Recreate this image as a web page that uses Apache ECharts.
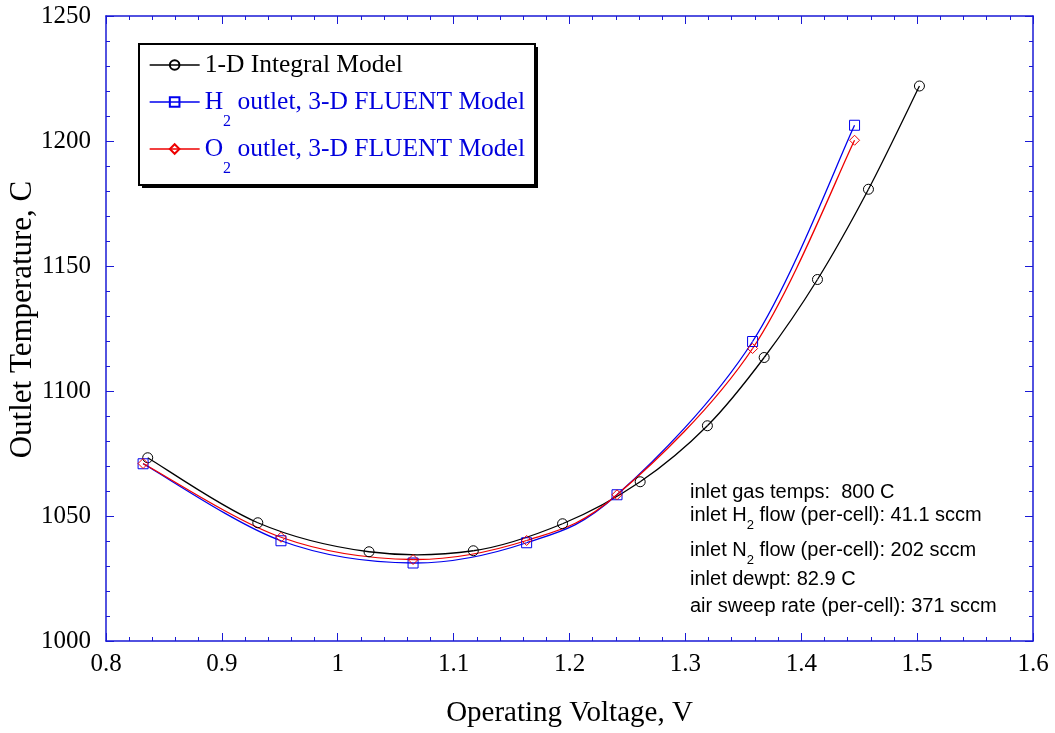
<!DOCTYPE html>
<html>
<head>
<meta charset="utf-8">
<script src="https://cdn.jsdelivr.net/npm/echarts@6/dist/echarts.min.js"></script>
<style>
html,body{margin:0;padding:0;background:#fff;}
#chart{width:1055px;height:733px;}
</style>
</head>
<body>
<div id="chart"></div>
<script>
// ---- data ----
var voltage1D = [0.836, 0.931, 1.027, 1.117, 1.194, 1.261, 1.319, 1.368, 1.414, 1.458, 1.502];
var temp1D    = [1073.3, 1047.3, 1035.7, 1036.1, 1046.9, 1063.7, 1086.1, 1113.4, 1144.6, 1180.7, 1222.0];
var voltageH2 = [0.832, 0.951, 1.065, 1.163, 1.241, 1.358, 1.446];
var tempH2    = [1070.9, 1040.1, 1031.2, 1039.3, 1058.5, 1119.8, 1206.3];
var voltageO2 = [0.832, 0.951, 1.065, 1.163, 1.241, 1.358, 1.446];
var tempO2    = [1071.0, 1041.5, 1032.6, 1040.2, 1058.5, 1117.0, 1200.3];

var seriesNames = ['1-D Integral Model', 'H2 outlet, 3-D FLUENT Model', 'O2 outlet, 3-D FLUENT Model'];
var seriesColors = ['#000000', '#0000ee', '#ee0000'];
var notes = [
  '{a|inlet gas temps:  800 C}',
  '{a|inlet H}{s|2}{a| flow (per-cell): 41.1 sccm}',
  '{a|inlet N}{s|2}{a| flow (per-cell): 202 sccm}',
  '{a|inlet dewpt: 82.9 C}',
  '{a|air sweep rate (per-cell): 371 sccm}'
];

function pairs(xs, ys) { return xs.map(function (x, i) { return [x, ys[i]]; }); }

var AXIS = '#1a1ad6';
var SERIF = '"Liberation Serif", "Times New Roman", serif';
var SANS = '"Liberation Sans", Arial, sans-serif';

var chart = echarts.init(document.getElementById('chart'));

function baseX(pos, show) {
  return {
    type: 'value', position: pos, min: 0.8, max: 1.6, interval: 0.1,
    axisLine: { show: true, onZero: false, lineStyle: { color: AXIS, width: 1.5 } },
    axisTick: { show: true, inside: true, length: 8, lineStyle: { color: AXIS } },
    minorTick: { show: true, splitNumber: 5, length: 4, lineStyle: { color: AXIS } },
    splitLine: { show: false }, minorSplitLine: { show: false },
    axisLabel: show ? { show: true, margin: 11, color: '#000', fontFamily: SERIF, fontSize: 25,
      formatter: function (v) { return String(Math.round(v * 10) / 10); } } : { show: false },
    name: show ? 'Operating Voltage, V' : '', nameLocation: 'middle', nameGap: 58,
    nameMoveOverlap: false,
    nameTextStyle: { color: '#000', fontFamily: SERIF, fontSize: 29 }
  };
}
function baseY(pos, show) {
  return {
    type: 'value', position: pos, min: 1000, max: 1250, interval: 50,
    axisLine: { show: true, onZero: false, lineStyle: { color: AXIS, width: 1.5 } },
    axisTick: { show: true, inside: true, length: 8, lineStyle: { color: AXIS } },
    minorTick: { show: true, splitNumber: 5, length: 4, lineStyle: { color: AXIS } },
    splitLine: { show: false }, minorSplitLine: { show: false },
    axisLabel: show ? { show: true, margin: 15, color: '#000', fontFamily: SERIF, fontSize: 25,
      formatter: function (v) { return String(v); } } : { show: false },
    name: show ? 'Outlet Temperature, C' : '', nameLocation: 'middle', nameGap: 68,
    nameMoveOverlap: false,
    nameTextStyle: { color: '#000', fontFamily: SERIF, fontSize: 31, padding: [0, 0, 0, 18] }
  };
}

var legendRich = {
  k: { color: '#000', fontFamily: SERIF, fontSize: 25.5, lineHeight: 28, verticalAlign: 'middle' },
  n: { color: '#0000dd', fontFamily: SERIF, fontSize: 25.5, lineHeight: 28, verticalAlign: 'middle' },
  s: { color: '#0000dd', fontFamily: SERIF, fontSize: 16, lineHeight: 16, verticalAlign: 'middle', padding: [40, 0, 0, 0] }
};

// Catmull-Rom curve through the data points, drawn via the axis scales (api.coord)
function splineRender(color, width) {
  return function (params, api) {
    var i = params.dataIndexInside, n = params.dataInsideLength;
    if (i >= n - 1) return null;
    function pt(k) {
      k = Math.max(0, Math.min(n - 1, k));
      return api.coord([api.value(0, k), api.value(1, k)]);
    }
    var p0 = pt(i - 1), p1 = pt(i), p2 = pt(i + 1), p3 = pt(i + 2);
    var t = 1 / 6;
    return {
      type: 'bezierCurve',
      shape: {
        x1: p1[0], y1: p1[1], x2: p2[0], y2: p2[1],
        cpx1: p1[0] + (p2[0] - p0[0]) * t, cpy1: p1[1] + (p2[1] - p0[1]) * t,
        cpx2: p2[0] - (p3[0] - p1[0]) * t, cpy2: p2[1] - (p3[1] - p1[1]) * t
      },
      style: { stroke: color, lineWidth: width, fill: null }
    };
  };
}

var xs = [voltage1D, voltageH2, voltageO2];
var ys = [temp1D, tempH2, tempO2];
var symbols = ['circle', 'rect', 'diamond'];
var series = [];
for (var s = 0; s < 3; s++) {
  series.push({
    name: 'curve' + s, type: 'custom', data: pairs(xs[s], ys[s]),
    renderItem: splineRender(seriesColors[s], 1.3), z: 2 + s, silent: true,
    encode: { x: 0, y: 1 }
  });
}
for (var s2 = 0; s2 < 3; s2++) {
  series.push({
    name: seriesNames[s2], type: 'line', data: pairs(xs[s2], ys[s2]),
    symbol: symbols[s2], symbolSize: 10,
    itemStyle: { color: 'rgba(255,255,255,0)', borderColor: seriesColors[s2], borderWidth: 1 },
    lineStyle: { color: seriesColors[s2], width: 1.3, opacity: 0 }, z: 6 + s2
  });
}

var legendTops = [52, 74, 121];
var legends = seriesNames.map(function (nm, i) {
  return {
    orient: 'vertical', left: 149, top: legendTops[i], z: 20,
    padding: 0, itemWidth: 50, itemHeight: 12,
    data: [{ name: nm, lineStyle: { color: seriesColors[i], width: 1.3, opacity: 1 } }],
    formatter: function (name) {
      if (name === seriesNames[0]) return '{k|' + name + '}';
      return '{n|' + name.charAt(0) + '}{s|2}{n|' + name.slice(2) + '}';
    },
    textStyle: { rich: legendRich, fontFamily: SERIF, fontSize: 25.5 }
  };
});

chart.setOption({
  animation: false,
  backgroundColor: '#fff',
  grid: { left: 106, top: 16, right: 22, bottom: 92, containLabel: false, outerBoundsMode: 'none' },
  xAxis: [baseX('bottom', true), baseX('top', false)],
  yAxis: [baseY('left', true), baseY('right', false)],
  legend: legends,
  graphic: [
    { type: 'rect', left: 142, top: 47, z: 15, shape: { width: 396, height: 141 }, style: { fill: '#000' } },
    { type: 'rect', left: 138, top: 43, z: 16, shape: { width: 396, height: 141 },
      style: { fill: '#fff', stroke: '#000', lineWidth: 2 } }
  ].concat(notes.map(function (t, i) {
    var tops = [482, 505, 540, 569, 596];
    return {
      type: 'text', left: 690, top: tops[i], z: 10,
      style: {
        text: t,
        rich: {
          a: { fontFamily: SANS, fontSize: 20, lineHeight: 22, color: '#000', verticalAlign: 'top' },
          s: { fontFamily: SANS, fontSize: 13, lineHeight: 14, color: '#000', verticalAlign: 'top', padding: [14, 0, 0, 0] }
        }
      }
    };
  })),
  series: series
});
</script>
</body>
</html>
